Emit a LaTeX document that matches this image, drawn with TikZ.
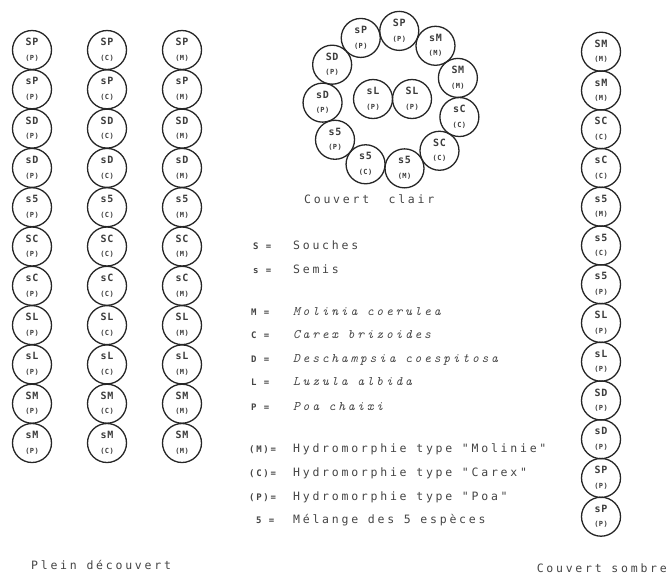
\documentclass[tikz,border=0pt]{standalone}
\usepackage{fontspec}
\newfontfamily\tw{DejaVu Sans Mono}[LetterSpace=24]
\newfontfamily\twk{DejaVu Sans Mono Bold}[LetterSpace=19]
\newfontfamily\twc{DejaVu Sans Mono Bold}[LetterSpace=6]
\newfontfamily\spf{lmmono10-italic.otf}[LetterSpace=21]
\definecolor{ink}{HTML}{262626}
\definecolor{txt}{HTML}{454545}
\newcommand\spec[1]{{\spf\fontsize{13}{14}\selectfont #1}}
\tikzset{
  plot/.style={circle, draw=ink, line width=1.3pt, minimum size=39pt, inner sep=0pt},
  toplab/.style={inner sep=0pt, text=ink!90, font=\twc\fontsize{10}{10}\selectfont},
  botlab/.style={inner sep=0pt, text=ink!90, font=\twc\fontsize{7}{8}\selectfont},
  keylab/.style={anchor=base west, inner sep=0pt, text=txt, font=\twk\fontsize{9}{10}\selectfont},
  vallab/.style={anchor=base west, inner sep=0pt, text=txt, font=\tw\fontsize{11.5}{12}\selectfont},
  caption/.style={inner sep=0pt, text=txt, font=\tw\fontsize{11.5}{12}\selectfont}
}
\newcommand\plant[5]{%
  \node[plot] (#1) at (#2,#3) {};
  \node[toplab] (#1t) at ([yshift=8pt]#1.center) {#4};
  \node[botlab] (#1b) at ([yshift=-8pt]#1.center) {#5};
}
\begin{document}
\begin{tikzpicture}[x=1pt,y=-1pt]
\useasboundingbox[fill=white] (0,0) rectangle (668,576);

% Plein decouvert: three columns
\foreach \lab [count=\i] in {SP,sP,SD,sD,s5,SC,sC,SL,sL,SM,sM} {
  \pgfmathsetmacro\yy{50+(\i-1)*39.3}
  \plant{p\i}{32}{\yy}{\lab}{(P)}
  \plant{c\i}{107}{\yy}{\lab}{(C)}
}
\foreach \lab [count=\i] in {SP,sP,SD,sD,s5,SC,sC,SL,sL,SM,SM} {
  \pgfmathsetmacro\yy{50+(\i-1)*39.3}
  \plant{m\i}{182}{\yy}{\lab}{(M)}
}
\node[caption, anchor=base west] (plein) at (31,569) {Plein découvert};

% Couvert clair: ring of eleven touching circles around two inner ones
\foreach \lab/\sub [count=\i] in {SP/(P),sM/(M),SM/(M),sC/(C),SC/(C),s5/(M),s5/(C),s5/(P),sD/(P),SD/(P),sP/(P)} {
  \pgfmathsetmacro\ang{84-(\i-1)*360/11}
  \pgfmathsetmacro\xx{392+69.5*cos(\ang)}
  \pgfmathsetmacro\yy{100-69.5*sin(\ang)}
  \plant{r\i}{\xx}{\yy}{\lab}{\sub}
}
\plant{ri1}{373}{99}{sL}{(P)}
\plant{ri2}{412}{99}{SL}{(P)}
\node[caption, anchor=base west] (clair) at (304,203) {Couvert\ \ clair};

% Couvert sombre: right column
\foreach \lab/\sub [count=\i] in {SM/(M),sM/(M),SC/(C),sC/(C),s5/(M),s5/(C),s5/(P),SL/(P),sL/(P),SD/(P),sD/(P),SP/(P),sP/(P)} {
  \pgfmathsetmacro\yy{51.7+(\i-1)*38.75}
  \plant{s\i}{601}{\yy}{\lab}{\sub}
}
\node[caption, anchor=base east] (sombre) at (667,572) {Couvert sombre};

% Legend
\node[keylab] (k1) at (253,249) {S =};
\node[vallab] (v1) at (293,249) {Souches};
\node[keylab] (k2) at (253,273.5) {s =};
\node[vallab] (v2) at (293,273.5) {Semis};
\node[keylab] (k3) at (251,315) {M =};
\node[vallab] (v3) at (293,315) {\spec{Molinia coerulea}};
\node[keylab] (k4) at (251,338) {C =};
\node[vallab] (v4) at (293,338) {\spec{Carex brizoides}};
\node[keylab] (k5) at (251,362) {D =};
\node[vallab] (v5) at (293,362) {\spec{Deschampsia coespitosa}};
\node[keylab] (k6) at (251,385.5) {L =};
\node[vallab] (v6) at (293,385.5) {\spec{Luzula albida}};
\node[keylab] (k7) at (251,410) {P =};
\node[vallab] (v7) at (293,410) {\spec{Poa chaixi}};
\node[keylab] (k8) at (249,452.5) {(M)=};
\node[vallab] (v8) at (293,452.5) {Hydromorphie type "Molinie"};
\node[keylab] (k9) at (249,476) {(C)=};
\node[vallab] (v9) at (293,476) {Hydromorphie type "Carex"};
\node[keylab] (k10) at (249,500) {(P)=};
\node[vallab] (v10) at (293,500) {Hydromorphie type "Poa"};
\node[keylab] (k11) at (256,523) {5 =};
\node[vallab] (v11) at (293,523) {Mélange des 5 espèces};
\end{tikzpicture}
\end{document}
